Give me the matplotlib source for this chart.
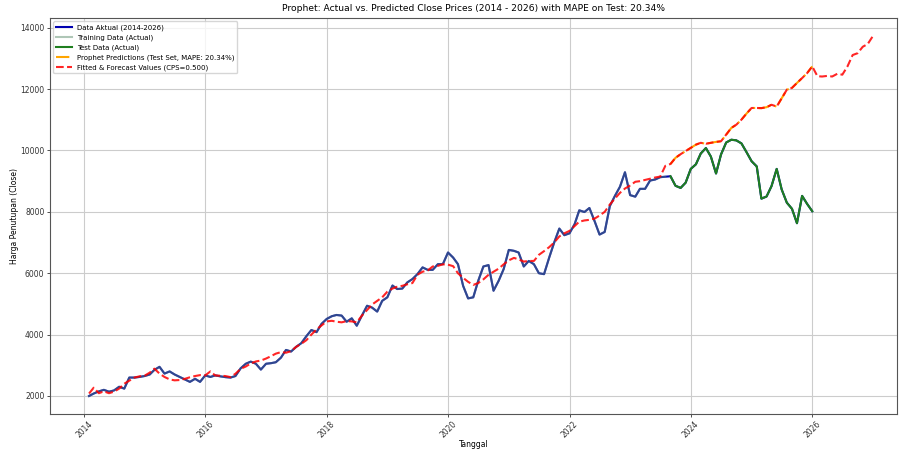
import matplotlib
matplotlib.use("Agg")
import matplotlib.pyplot as plt
import matplotlib.dates as mdates
import pandas as pd
import numpy as np

# Monthly (month-end) dates
actual_dates = pd.date_range("2014-01-31", periods=144, freq="ME")
forecast_dates = pd.date_range("2014-01-31", periods=156, freq="ME")

actual_close = [
    2000, 2080, 2150, 2200, 2140, 2180, 2300, 2240, 2600, 2600, 2620, 2650,
    2700, 2850, 2950, 2730, 2800, 2700, 2620, 2540, 2460, 2560, 2460, 2670,
    2620, 2670, 2640, 2615, 2600, 2650, 2900, 3050, 3120, 3050, 2860, 3050,
    3070, 3100, 3250, 3500, 3450, 3600, 3720, 3950, 4150, 4080, 4350, 4510,
    4600, 4640, 4620, 4420, 4530, 4290, 4620, 4940, 4880, 4750, 5100, 5215,
    5600, 5485, 5500, 5700, 5810, 5970, 6190, 6110, 6110, 6295, 6295, 6675,
    6510, 6295, 5590, 5180, 5215, 5755, 6220, 6265, 5430, 5755, 6135, 6760,
    6730, 6675, 6220, 6400, 6295, 6000, 5970, 6510, 7000, 7455, 7240, 7300,
    7600, 8050, 7995, 8125, 7700, 7260, 7345, 8190, 8515, 8820, 9290, 8545,
    8495, 8750, 8750, 9020, 9055, 9130, 9145, 9160, 8850, 8780, 8950, 9400,
    9550, 9900, 10080, 9800, 9250, 9870, 10260, 10350, 10330, 10230, 9950, 9650,
    9480, 8430, 8500, 8840, 9400, 8730, 8300, 8100, 7630, 8520, 8260, 8020,
]

fitted_forecast = [
    2080, 2270, 2090, 2150, 2090, 2140, 2240, 2400, 2500, 2600, 2640, 2660,
    2760, 2890, 2730, 2620, 2540, 2510, 2520, 2560, 2610, 2650, 2680, 2670,
    2800, 2670, 2660, 2650, 2615, 2725, 2885, 2960, 3060, 3125, 3155, 3220,
    3300, 3380, 3430, 3410, 3460, 3600, 3700, 3820, 4000, 4170, 4300, 4430,
    4450, 4420, 4400, 4440, 4430, 4400, 4620, 4800, 4980, 5100, 5215, 5400,
    5500, 5560, 5590, 5640, 5680, 5950, 6050, 6090, 6220, 6240, 6290, 6280,
    6230, 6000, 5850, 5720, 5620, 5680, 5800, 5950, 6050, 6150, 6290, 6420,
    6500, 6450, 6380, 6400, 6400, 6600, 6720, 6850, 7000, 7200, 7300, 7380,
    7540, 7680, 7720, 7740, 7780, 7880, 8000, 8240, 8430, 8620, 8760, 8860,
    8980, 9000, 9040, 9080, 9120, 9150, 9500, 9560, 9760, 9880, 9980, 10085,
    10190, 10250, 10220, 10250, 10280, 10300, 10515, 10735, 10840, 11005, 11200, 11385,
    11385, 11380, 11410, 11490, 11430, 11700, 11980, 12040, 12200, 12360, 12520, 12740,
    12420, 12410, 12430, 12410, 12500, 12470, 12740, 13110, 13170, 13380, 13470, 13730,
]

train_size = 115
mape = 20.34
cps = 0.500

train_dates = actual_dates[:train_size]
train_close = actual_close[:train_size]
test_dates = actual_dates[train_size:]
test_close = actual_close[train_size:]
test_pred = fitted_forecast[train_size:len(actual_close)]

fig = plt.figure(figsize=(9.01, 4.5), dpi=100)
ax = fig.add_axes([50 / 901, 36 / 450, 847 / 901, 396 / 450])

ax.plot(actual_dates, actual_close, color="#0000b0", lw=1.5, label="Data Aktual (2014-2026)")
ax.plot(train_dates, train_close, color="#5f8f6f", lw=1.5, alpha=0.5, label="Training Data (Actual)")
ax.plot(test_dates, test_close, color="#1f7f1f", lw=1.5, label="Test Data (Actual)")
ax.plot(test_dates, test_pred, color="orange", lw=1.5, ls="-.", label=f"Prophet Predictions (Test Set, MAPE: {mape:.2f}%)")
ax.plot(forecast_dates, fitted_forecast, color="red", lw=1.5, ls="--", alpha=0.85,
        label=f"Fitted & Forecast Values (CPS={cps:.3f})")

ax.set_xlim(mdates.date2num(pd.Timestamp("2013-06-10")), mdates.date2num(pd.Timestamp("2027-05-25")))
ax.set_ylim(1413, 14317)
ax.xaxis.set_major_locator(mdates.YearLocator(2))
ax.xaxis.set_major_formatter(mdates.DateFormatter("%Y"))
ax.set_yticks([2000, 4000, 6000, 8000, 10000, 12000, 14000])

ax.tick_params(axis="both", labelsize=5.5, colors="#333333", length=2.5, width=0.6, pad=1.5)
for lab in ax.get_xticklabels():
    lab.set_rotation(45)

ax.grid(True, color="#cccccc", lw=0.8)
for s in ax.spines.values():
    s.set_color("#555555")
    s.set_linewidth(0.8)

ax.set_title("Prophet: Actual vs. Predicted Close Prices (2014 - 2026) with MAPE on Test: 20.34%",
             fontsize=6.6, pad=5)
ax.set_xlabel("Tanggal", fontsize=5.5, labelpad=0)
ax.set_ylabel("Harga Penutupan (Close)", fontsize=5.5, labelpad=1)

ax.legend(loc="upper left", fontsize=5, framealpha=0.8, handlelength=2.2)

fig.savefig("out.png", dpi=100)
